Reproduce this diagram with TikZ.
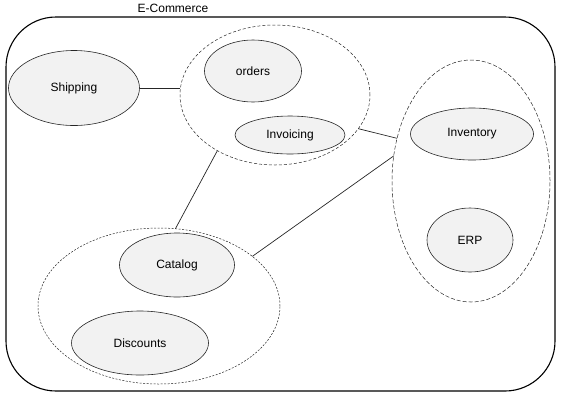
\documentclass[tikz,border=0pt]{standalone}
\usepackage{fontspec}
\setmainfont{Liberation Sans}
\usetikzlibrary{shapes.geometric,positioning}

\begin{document}
\begin{tikzpicture}[x=1pt,y=-1pt,
    svc/.style={ellipse,draw=black!85,fill=black!5,line width=0.6pt,inner sep=0pt,outer sep=0pt,
      font=\fontsize{12}{14}\selectfont},
    grp/.style={ellipse,draw=black!85,line width=0.5pt,inner sep=0pt,outer sep=0pt},
    link/.style={draw=black!85,line width=0.7pt}]
        \useasboundingbox (0,0) rectangle (561,400);
        % system boundary
        \draw[line width=1.1pt,rounded corners=50pt] (6,17) rectangle (555,391);
        \node[font=\fontsize{12}{14}\selectfont] (title) at (173,8) {E-Commerce};
        % groups
        \node[grp,dash pattern=on 3pt off 2pt,minimum width=190pt,minimum height=140pt] (ordgrp) at (275,95) {};
        \node[grp,dash pattern=on 4pt off 2pt,minimum width=158pt,minimum height=242pt] (erpgrp) at (471,181) {};
        \node[grp,dash pattern=on 2pt off 1.5pt,minimum width=242pt,minimum height=156pt] (catgrp) at (159,306) {};
        % services
        \node[svc,minimum width=131pt,minimum height=75pt] (ship) at (74,88) {Shipping};
        \node[svc,minimum width=97pt,minimum height=62pt] (orders) at (253,71) {orders};
        \node[svc,minimum width=110pt,minimum height=38pt] (inv) at (290,135) {Invoicing};
        \node[svc,minimum width=123pt,minimum height=52pt] (stock) at (472,134) {Inventory};
        \node[svc,minimum width=86pt,minimum height=64pt] (erp) at (470,240) {ERP};
        \node[svc,minimum width=115pt,minimum height=64pt] (cat) at (177,265) {Catalog};
        \node[svc,minimum width=137pt,minimum height=64pt] (disc) at (140,343) {Discounts};
        % links
        \draw[link] (ship.east) -- (ship.east -| ordgrp.west);
        \draw[link] (ordgrp.-22) -- (erpgrp.150);
        \draw[link] (ordgrp.224) -- (catgrp.78);
        \draw[link] (catgrp.28) -- (erpgrp.162);
    \end{tikzpicture}
\end{document}
